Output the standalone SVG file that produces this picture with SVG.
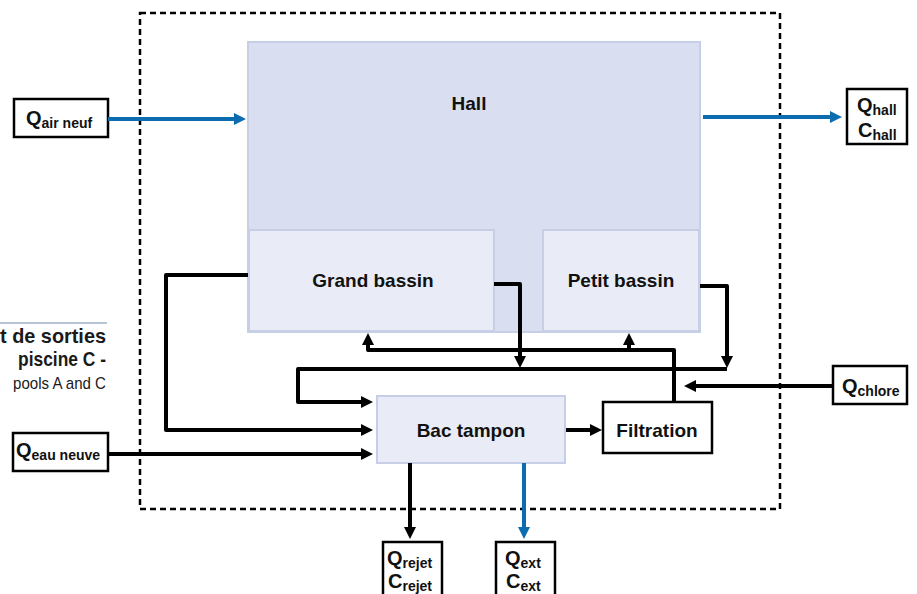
<svg xmlns="http://www.w3.org/2000/svg" width="917" height="594" viewBox="0 0 917 594">
<defs>
<style>
.lbl{font-family:"Liberation Sans",Arial,sans-serif;font-weight:bold;fill:#111;}
.big{font-size:19px;text-anchor:middle;}
.q{font-size:20px;}
.sub{font-size:14px;}
.box{fill:#fff;stroke:#000;stroke-width:2.5;}
.hall{fill:#d9dff0;stroke:#c6cfe6;stroke-width:2;}
.pool{fill:#e9ecf6;stroke:#c6cfe6;stroke-width:2;}
.k{fill:none;stroke:#000;stroke-width:4;stroke-linejoin:round;marker-end:url(#ak);}
.b{fill:none;stroke:#0b6db0;stroke-width:4;marker-end:url(#ab);}
.side{font-family:"Liberation Sans",Arial,sans-serif;fill:#1a1a1a;}
</style>
<marker id="ak" markerUnits="userSpaceOnUse" markerWidth="12" markerHeight="12" viewBox="0 0 11 11" refX="0" refY="5.5" orient="auto">
<path d="M0,0 L11,5.5 L0,11 z" fill="#000"/>
</marker>
<marker id="ab" markerUnits="userSpaceOnUse" markerWidth="12" markerHeight="12" viewBox="0 0 11 11" refX="0" refY="5.5" orient="auto">
<path d="M0,0 L11,5.5 L0,11 z" fill="#0b6db0"/>
</marker>
</defs>
<rect width="917" height="594" fill="#fff"/>

<g id="side-text">
<line x1="0" y1="323" x2="107" y2="323" stroke="#6f8aa8" stroke-width="1"/>
<text class="side" x="0" y="343" font-size="21" font-weight="bold" textLength="106" lengthAdjust="spacingAndGlyphs">t de sorties</text>
<text class="side" x="18" y="366" font-size="21" font-weight="bold" textLength="88" lengthAdjust="spacingAndGlyphs">piscine C -</text>
<text class="side" x="13" y="389" font-size="17" textLength="93" lengthAdjust="spacingAndGlyphs">pools A and C</text>
</g>

<rect id="boundary" x="140" y="13" width="640" height="496" fill="none" stroke="#000" stroke-width="2.5" stroke-dasharray="6 4"/>

<g id="hall">
<rect class="hall" x="248" y="42" width="452" height="290"/>
<text class="lbl big" x="469" y="110">Hall</text>
</g>
<g id="grand-bassin">
<rect class="pool" x="249" y="230" width="245" height="101"/>
<text class="lbl big" x="373" y="287">Grand bassin</text>
</g>
<g id="petit-bassin">
<rect class="pool" x="543" y="230" width="156" height="101"/>
<text class="lbl big" x="621" y="287">Petit bassin</text>
</g>
<g id="bac-tampon">
<rect class="pool" x="377" y="396" width="188" height="67"/>
<text class="lbl big" x="471" y="437">Bac tampon</text>
</g>
<g id="filtration">
<rect class="box" x="603" y="402" width="109" height="51"/>
<text class="lbl big" x="657" y="437">Filtration</text>
</g>

<g id="q-air-neuf">
<rect class="box" x="14" y="99" width="94" height="38"/>
<text class="lbl" x="26" y="125"><tspan class="q">Q</tspan><tspan class="sub" dy="3">air neuf</tspan></text>
</g>
<g id="q-hall">
<rect class="box" x="847" y="89" width="60" height="55"/>
<text class="lbl" x="857" y="112"><tspan class="q">Q</tspan><tspan class="sub" dy="3">hall</tspan></text>
<text class="lbl" x="858" y="137"><tspan class="q">C</tspan><tspan class="sub" dy="3">hall</tspan></text>
</g>
<g id="q-chlore">
<rect class="box" x="833" y="366" width="74" height="38"/>
<text class="lbl" x="842" y="393"><tspan class="q">Q</tspan><tspan class="sub" dy="3">chlore</tspan></text>
</g>
<g id="q-eau-neuve">
<rect class="box" x="13" y="433" width="95" height="38"/>
<text class="lbl" x="16" y="457"><tspan class="q">Q</tspan><tspan class="sub" dy="3">eau neuve</tspan></text>
</g>
<g id="q-rejet">
<rect class="box" x="383" y="542" width="59" height="60"/>
<text class="lbl" x="387" y="565"><tspan class="q">Q</tspan><tspan class="sub" dy="3">rejet</tspan></text>
<text class="lbl" x="388" y="588"><tspan class="q">C</tspan><tspan class="sub" dy="3">rejet</tspan></text>
</g>
<g id="q-ext">
<rect class="box" x="496" y="542" width="59" height="60"/>
<text class="lbl" x="505" y="565"><tspan class="q">Q</tspan><tspan class="sub" dy="3">ext</tspan></text>
<text class="lbl" x="506" y="588"><tspan class="q">C</tspan><tspan class="sub" dy="3">ext</tspan></text>
</g>

<g id="connectors">
<path class="b" d="M108,119 H234"/>
<path class="b" d="M703,117 H830"/>
<path class="k" d="M248,275 H166 V430 H361"/>
<path class="k" d="M494,284 H520 V356"/>
<path class="k" d="M700,286 H727 V356"/>
<path class="k" d="M727,369 H298 V402 H361"/>
<path class="k" d="M674,402 V350 H368 V345"/>
<path class="k" d="M629,350 V345"/>
<path class="k" d="M833,386 H696"/>
<path class="k" d="M566,430 H590"/>
<path class="k" d="M108,454 H361"/>
<path class="k" d="M410,463 V527"/>
<path class="b" d="M524,463 V527"/>
</g>
</svg>
